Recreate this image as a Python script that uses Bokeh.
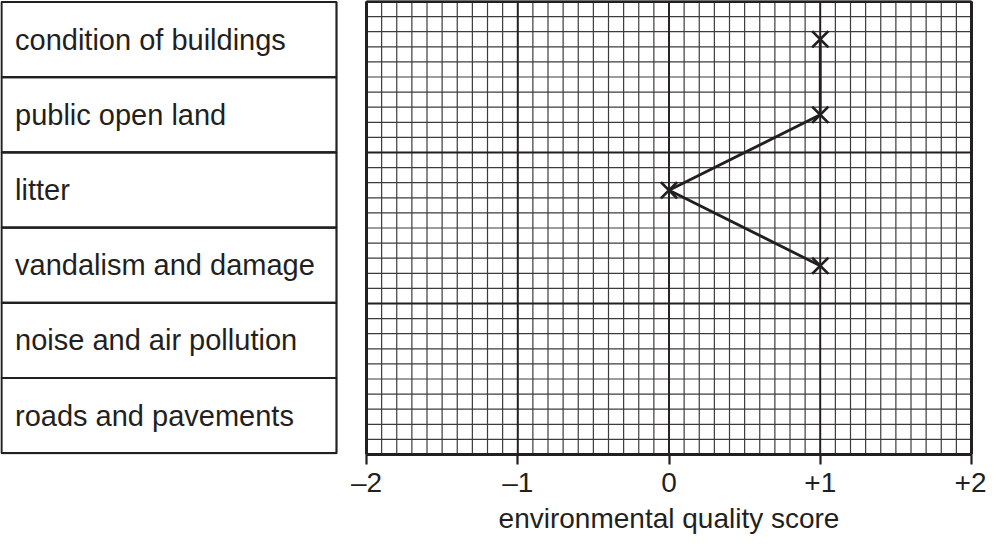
from bokeh.plotting import figure
from bokeh.layouts import row
from bokeh.models import Range1d, LinearAxis, FixedTicker
from bokeh.embed import file_html
from bokeh.resources import INLINE
from bokeh.core.properties import value
import numpy as np

# ---- data ----
categories = ["condition of buildings", "public open land", "litter",
              "vandalism and damage", "noise and air pollution", "roads and pavements"]
scored_categories = ["condition of buildings", "public open land", "litter",
                     "vandalism and damage"]
scores = [1, 1, 0, 1]
tick_values = [-2, -1, 0, 1, 2]
tick_labels = ["\u20132", "\u20131", "0", "+1", "+2"]
x_title = "environmental quality score"

# ---- layout constants ----
H = 540
BORDER_BOTTOM = 86
FRAME_H = H - BORDER_BOTTOM
PX_PER_ROW = 75.5
PX_PER_X = 151.25
n = len(categories)
INK = "#231f20"
FONT = "Liberation Sans"

y_top = FRAME_H / PX_PER_ROW

row_center = {c: n - i - 0.5 for i, c in enumerate(categories)}
centers = [row_center[c] for c in categories]

# ---------------- left figure: category boxes ----------------
WL = 350
LEFT_ROW = 75.2
lb = -1.3 / LEFT_ROW
left = figure(width=WL, height=H, output_backend="svg", toolbar_location=None,
              x_range=Range1d(0, WL), y_range=Range1d(lb, lb + FRAME_H / LEFT_ROW),
              min_border_left=0, min_border_right=0, min_border_top=0,
              min_border_bottom=BORDER_BOTTOM,
              x_axis_location=None, y_axis_location=None)
left.outline_line_color = None
left.grid.visible = False

left.quad(left=1.0, right=336.0,
          top=[row_center[c] + 0.5 for c in categories],
          bottom=[row_center[c] - 0.5 for c in categories],
          fill_color=None, line_color=INK, line_width=2.2)
left.text(x=14.5, y=centers, text=categories,
          text_font=value(FONT), text_font_size="29px", text_baseline="middle",
          text_color=INK)

# ---------------- right figure: grid ----------------
xmin, xmax = tick_values[0], tick_values[-1]
PAD = 2.0
FRAME_W = (xmax - xmin) * PX_PER_X + 2 * PAD
BL, BR = 14, 13
WR = int(round(BL + FRAME_W + BR))
right = figure(width=WR, height=H, output_backend="svg", toolbar_location=None,
               x_range=Range1d(xmin - PAD / PX_PER_X, xmax + PAD / PX_PER_X),
               y_range=Range1d(0, y_top),
               min_border_left=BL, min_border_right=BR, min_border_top=0,
               min_border_bottom=BORDER_BOTTOM,
               x_axis_location=None, y_axis_location=None)
right.outline_line_color = None
right.grid.visible = False

minor_x = np.round(np.arange(xmin, xmax + 1e-9, 0.1), 3)
minor_y = np.round(np.arange(0, n + 1e-9, 0.2), 3)
right.segment(x0=minor_x, x1=minor_x, y0=0, y1=n, line_color="#3c3c3c", line_width=1.2)
right.segment(x0=xmin, x1=xmax, y0=minor_y, y1=minor_y, line_color="#3c3c3c", line_width=1.2)
major_x = np.array(tick_values, dtype=float)
major_y = np.arange(0, n + 1e-9, 2.0)
right.segment(x0=major_x, x1=major_x, y0=0, y1=n, line_color=INK, line_width=1.9)
right.segment(x0=xmin, x1=xmax, y0=major_y, y1=major_y, line_color=INK, line_width=1.9)
right.segment(x0=[xmin, xmax, xmin, xmin], x1=[xmin, xmax, xmax, xmax],
              y0=[0, 0, 0, n], y1=[n, n, 0, n], line_color=INK, line_width=3)

ys = [row_center[c] for c in scored_categories]
right.line(x=scores, y=ys, line_color=INK, line_width=2.8)
right.scatter(x=scores, y=ys, marker="x", size=23, line_color=INK, line_width=2.8)

ax = LinearAxis(bounds=(xmin, xmax), ticker=FixedTicker(ticks=tick_values, minor_ticks=[]))
ax.major_label_overrides = {v: l for v, l in zip(tick_values, tick_labels)}
ax.axis_line_color = INK
ax.axis_line_width = 3
ax.major_tick_line_color = INK
ax.major_tick_line_width = 2.2
ax.major_tick_out = 10
ax.major_tick_in = 0
ax.minor_tick_out = 0
ax.minor_tick_in = 0
ax.major_label_text_font = FONT
ax.major_label_text_font_size = "28px"
ax.major_label_text_color = INK
ax.major_label_standoff = 2
ax.axis_label = x_title
ax.axis_label_text_font = FONT
ax.axis_label_text_font_size = "28px"
ax.axis_label_text_font_style = "normal"
ax.axis_label_text_color = INK
ax.axis_label_standoff = 2
right.add_layout(ax, "below")

layout = row(left, right, spacing=0)
open("out.html", "w").write(file_html(layout, INLINE))
